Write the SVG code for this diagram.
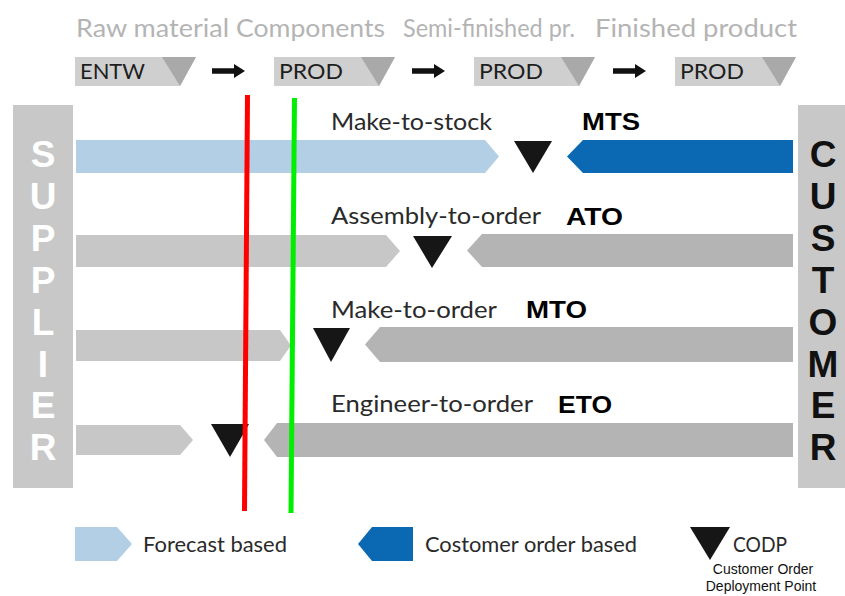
<svg xmlns="http://www.w3.org/2000/svg" width="845" height="596" viewBox="0 0 845 596">
  <style>
    .stage { font-family: Lato, "Open Sans", sans-serif; font-size: 25px; fill: #b4b4b4; }
    .boxlbl { font-family: Lato, "Liberation Sans", sans-serif; font-size: 22px; fill: #1e1e1e; }
    .box { fill: #cfcfcf; }
    .wedge { fill: #a9a9a9; }
    .step { fill: #111; }
    .side { fill: #c8c8c8; }
    .supl { font-family: "Liberation Sans", Arial, sans-serif; font-weight: bold; font-size: 37px; fill: #ffffff; text-anchor: middle; }
    .cust { font-family: "Liberation Sans", Arial, sans-serif; font-weight: bold; font-size: 37px; fill: #111111; text-anchor: middle; }
    .fc { fill: #b3cfe5; }
    .co { fill: #0b69b3; }
    .gl { fill: #c7c7c7; }
    .gr { fill: #b4b4b4; }
    .codp { fill: #161616; }
    .name { font-family: Lato, "Open Sans", sans-serif; font-size: 24px; fill: #2a2a2a; }
    .abbr { font-family: "Liberation Sans", Arial, sans-serif; font-weight: bold; font-size: 23px; fill: #000; }
    .leg { font-family: Lato, "Open Sans", sans-serif; font-size: 21px; fill: #2a2a2a; }
    .note { font-family: "Liberation Sans", Arial, sans-serif; font-size: 14px; fill: #111; text-anchor: middle; }
  </style>
  <defs>
    <g id="stepArrow">
      <polygon points="0,-2.8 22,-2.8 22,-7 33,0 22,7 22,2.8 0,2.8"/>
    </g>
  </defs>

  <rect width="845" height="596" fill="#ffffff"/>

  <!-- material stages -->
  <g id="stages">
    <text class="stage" x="76" y="37" textLength="153" lengthAdjust="spacingAndGlyphs">Raw material</text>
    <text class="stage" x="236" y="37" textLength="149" lengthAdjust="spacingAndGlyphs">Components</text>
    <text class="stage" x="403" y="37" textLength="172" lengthAdjust="spacingAndGlyphs">Semi-finished pr.</text>
    <text class="stage" x="595" y="37" textLength="202" lengthAdjust="spacingAndGlyphs">Finished product</text>
  </g>

  <!-- process boxes -->
  <g id="box-entw">
    <polygon class="box" points="75,57 196,57 180,86 75,86"/>
    <polygon class="wedge" points="162,57 196,57 180,86"/>
    <text class="boxlbl" x="80" y="79" textLength="65" lengthAdjust="spacingAndGlyphs">ENTW</text>
  </g>
  <g id="box-prod1">
    <polygon class="box" points="274,57 395,57 379,86 274,86"/>
    <polygon class="wedge" points="361,57 395,57 379,86"/>
    <text class="boxlbl" x="279" y="79" textLength="64" lengthAdjust="spacingAndGlyphs">PROD</text>
  </g>
  <g id="box-prod2">
    <polygon class="box" points="474,57 595,57 579,86 474,86"/>
    <polygon class="wedge" points="561,57 595,57 579,86"/>
    <text class="boxlbl" x="479" y="79" textLength="64" lengthAdjust="spacingAndGlyphs">PROD</text>
  </g>
  <g id="box-prod3">
    <polygon class="box" points="675,57 796,57 780,86 675,86"/>
    <polygon class="wedge" points="762,57 796,57 780,86"/>
    <text class="boxlbl" x="680" y="79" textLength="64" lengthAdjust="spacingAndGlyphs">PROD</text>
  </g>

  <!-- step arrows between boxes -->
  <g id="connectors" class="step">
    <use href="#stepArrow" x="212" y="71"/>
    <use href="#stepArrow" x="412" y="71"/>
    <use href="#stepArrow" x="613" y="71"/>
  </g>

  <!-- supplier column -->
  <g id="supplier">
    <rect class="side" x="13" y="105" width="60" height="383"/>
    <text class="supl" x="43" y="167">S</text>
    <text class="supl" x="43" y="209">U</text>
    <text class="supl" x="43" y="251">P</text>
    <text class="supl" x="43" y="293">P</text>
    <text class="supl" x="43" y="335">L</text>
    <text class="supl" x="43" y="377">I</text>
    <text class="supl" x="43" y="418">E</text>
    <text class="supl" x="43" y="460">R</text>
  </g>

  <!-- customer column -->
  <g id="customer">
    <rect class="side" x="798" y="105" width="47" height="383"/>
    <text class="cust" x="823" y="167">C</text>
    <text class="cust" x="823" y="209">U</text>
    <text class="cust" x="823" y="251">S</text>
    <text class="cust" x="823" y="293">T</text>
    <text class="cust" x="823" y="335">O</text>
    <text class="cust" x="823" y="377">M</text>
    <text class="cust" x="823" y="418">E</text>
    <text class="cust" x="823" y="460">R</text>
  </g>

  <!-- make-to-stock -->
  <g id="mts">
    <text class="name" x="331" y="130" textLength="161" lengthAdjust="spacingAndGlyphs">Make-to-stock</text>
    <text class="abbr" x="582" y="130" textLength="58" lengthAdjust="spacingAndGlyphs">MTS</text>
    <polygon class="fc" points="76,140 485,140 499,156.5 485,173 76,173"/>
    <polygon class="codp" points="514,141 552,141 533,173"/>
    <polygon class="co" points="583,140 793,140 793,173 583,173 567,156.5"/>
  </g>

  <!-- assembly-to-order -->
  <g id="ato">
    <text class="name" x="331" y="224" textLength="210" lengthAdjust="spacingAndGlyphs">Assembly-to-order</text>
    <text class="abbr" x="566" y="225" textLength="57" lengthAdjust="spacingAndGlyphs">ATO</text>
    <polygon class="gl" points="76,235 386,235 400,251 386,267 76,267"/>
    <polygon class="codp" points="413,236 452,236 432,268"/>
    <polygon class="gr" points="482,234 793,234 793,267 482,267 467,250.5"/>
  </g>

  <!-- make-to-order -->
  <g id="mto">
    <text class="name" x="331" y="318" textLength="166" lengthAdjust="spacingAndGlyphs">Make-to-order</text>
    <text class="abbr" x="526" y="318" textLength="61" lengthAdjust="spacingAndGlyphs">MTO</text>
    <polygon class="gl" points="76,330 280,330 291,345.5 280,361 76,361"/>
    <polygon class="codp" points="313,328 350,328 331,362"/>
    <polygon class="gr" points="380,327 793,327 793,362 380,362 365,344.5"/>
  </g>

  <!-- engineer-to-order -->
  <g id="eto">
    <text class="name" x="331" y="412" textLength="202" lengthAdjust="spacingAndGlyphs">Engineer-to-order</text>
    <text class="abbr" x="558" y="413" textLength="54" lengthAdjust="spacingAndGlyphs">ETO</text>
    <polygon class="gl" points="76,425 180,425 193,440 180,455 76,455"/>
    <polygon class="codp" points="211,424 249,424 230,457"/>
    <polygon class="gr" points="277,423 793,423 793,457 277,457 264,440"/>
  </g>

  <!-- marker lines -->
  <g id="marker-lines">
    <line x1="247.5" y1="95" x2="244.5" y2="511" stroke="#ff0000" stroke-width="5"/>
    <line x1="294.5" y1="98" x2="291" y2="513" stroke="#00ee00" stroke-width="5"/>
  </g>

  <!-- legend -->
  <g id="legend-forecast">
    <polygon class="fc" points="75,527 117,527 132,544 117,561 75,561"/>
    <text class="leg" x="143" y="552" textLength="144" lengthAdjust="spacingAndGlyphs">Forecast based</text>
  </g>
  <g id="legend-order">
    <polygon class="co" points="372,527 413,527 413,561 372,561 358,544"/>
    <text class="leg" x="425" y="552" textLength="212" lengthAdjust="spacingAndGlyphs">Costomer order based</text>
  </g>
  <g id="legend-codp">
    <polygon class="codp" points="690,527 730,527 710,560"/>
    <text class="leg" x="733" y="552" textLength="54" lengthAdjust="spacingAndGlyphs">CODP</text>
    <text class="note" x="763" y="574">Customer Order</text>
    <text class="note" x="761" y="591">Deployment Point</text>
  </g>
</svg>
